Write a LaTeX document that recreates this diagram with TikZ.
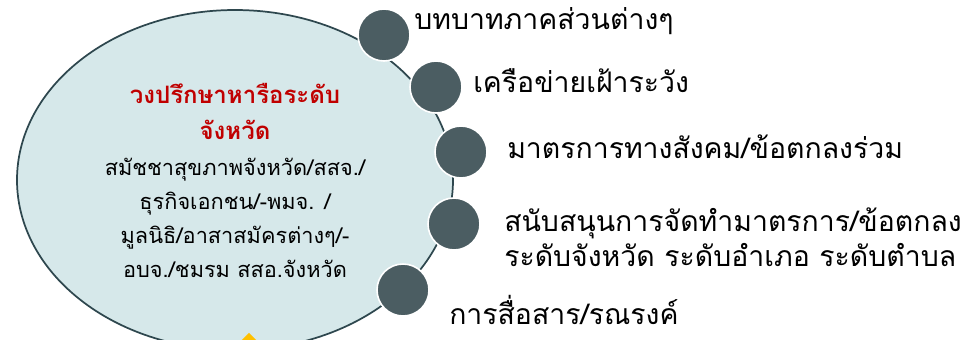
\documentclass[tikz,border=0pt]{standalone}
\usepackage{fontspec}
\newfontfamily\thaifont[Script=Thai]{Loma}
\usetikzlibrary{shapes.geometric}

\definecolor{councilfill}{HTML}{D6E8EA}
\definecolor{councilline}{HTML}{2E474E}
\definecolor{dotfill}{HTML}{4B5D62}
\definecolor{titlered}{HTML}{C00000}
\definecolor{markgold}{HTML}{FFC000}

\tikzset{
  dot/.style={circle,fill=dotfill,draw=white,line width=1.2pt,minimum size=39pt,inner sep=0pt},
  roletext/.style={anchor=west,inner sep=0pt,font=\thaifont\fontsize{21.3}{26}\selectfont},
}

\begin{document}
\begin{tikzpicture}[x=0.75pt,y=-0.75pt]
  \useasboundingbox (0,0) rectangle (969,339);
  \node [ellipse,draw=councilline,line width=1.3pt,fill=councilfill,minimum width=327pt,minimum height=255pt] (council) at (235,180) {};
  \node [diamond,fill=markgold,minimum size=26pt,inner sep=0pt] (mark) at (249,350) {};
  % title and members
  \node [align=center,text=titlered,font=\thaifont\bfseries\fontsize{18}{27}\selectfont] (title) at (235,111) {วงปรึกษาหารือระดับ\\จังหวัด};
  \node [align=center,font=\thaifont\fontsize{16.3}{25.5}\selectfont] (members) at (235,218) {สมัชชาสุขภาพจังหวัด/สสจ./\\ธุรกิจเอกชน/-พมจ. /\\มูลนิธิ/อาสาสมัครต่างๆ/-\\อบจ./ชมรม สสอ.จังหวัด};
  % the dots round the edge
  \node [dot] (d1) at (384,35) {};
  \node [dot] (d2) at (436,87) {};
  \node [dot] (d3) at (461,152) {};
  \node [dot] (d4) at (454,224) {};
  \node [dot] (d5) at (403,290) {};
  \node [roletext] (t1) at (414,21) {บทบาทภาคส่วนต่างๆ};
  \node [roletext] (t2) at (473,81) {เครือข่ายเฝ้าระวัง};
  \node [roletext] (t3) at (507,147) {มาตรการทางสังคม/ข้อตกลงร่วม};
  \node [roletext,align=left] (t4) at (504,237) {สนับสนุนการจัดทำมาตรการ/ข้อตกลง\\ระดับจังหวัด ระดับอำเภอ ระดับตำบล};
  \node [roletext] (t5) at (449,310) {การสื่อสาร/รณรงค์};
\end{tikzpicture}
\end{document}
